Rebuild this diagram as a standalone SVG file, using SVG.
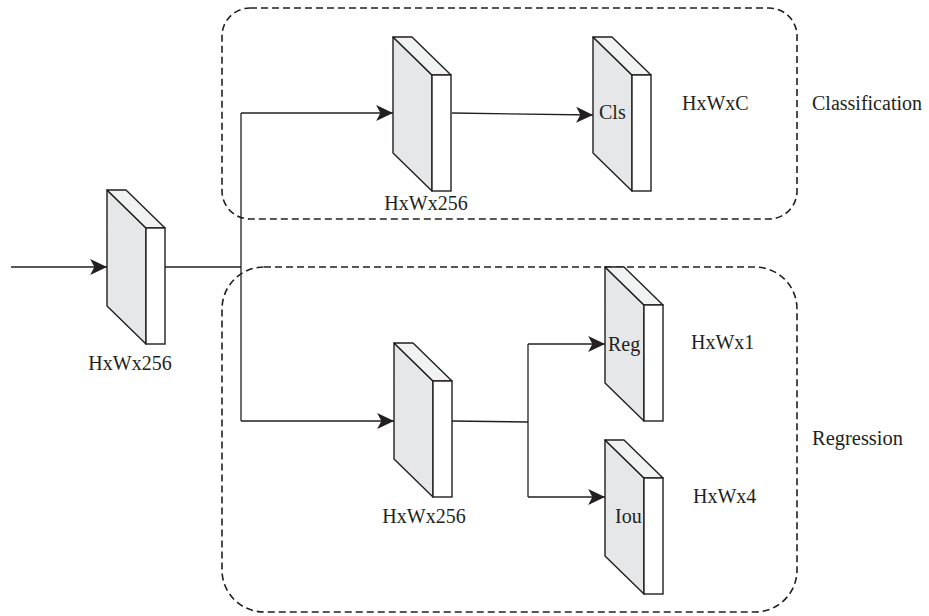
<svg xmlns="http://www.w3.org/2000/svg" xmlns:xlink="http://www.w3.org/1999/xlink" width="929" height="616" viewBox="0 0 929 616">
  <style>
    .lbl { font-family: "Liberation Serif", "Times New Roman", serif; font-size: 20px; fill: #231f20; }
    .wire { fill: none; stroke: #231f20; stroke-width: 1.3; }
    .group { fill: none; stroke: #231f20; stroke-width: 1.6; stroke-dasharray: 7 4; }
    .side { fill: #e6e7e8; stroke: #231f20; stroke-width: 1.4; stroke-linejoin: round; }
    .top { fill: #f1f2f2; stroke: #231f20; stroke-width: 1.4; stroke-linejoin: round; }
    .front { fill: #ffffff; stroke: #231f20; stroke-width: 1.4; }
  </style>
  <defs>
    <marker id="arrow" markerUnits="userSpaceOnUse" markerWidth="20" markerHeight="20" viewBox="-1 -9 19 18" refX="16" refY="0" orient="auto">
      <path d="M0,-7.5 L16,0 L0,7.5 L4,0 Z" fill="#231f20"/>
    </marker>
    <!-- feature-map slab: shaded side face, light top face, white front face -->
    <g id="slab">
      <polygon class="side" points="0,0 39,38 39,154 0,116"/>
      <polygon class="top" points="0,0 19,0 58,38 39,38"/>
      <rect class="front" x="39" y="38" width="19" height="116"/>
    </g>
  </defs>

  <rect width="929" height="616" fill="#ffffff"/>

  <!-- branch regions -->
  <g id="regions">
    <rect class="group" x="222" y="8" width="575" height="211" rx="28" ry="28"/>
    <rect class="group" x="222" y="267" width="575" height="345" rx="42" ry="42"/>
    <text class="lbl" x="812" y="110" textLength="110" lengthAdjust="spacingAndGlyphs">Classification</text>
    <text class="lbl" x="812" y="445" textLength="91" lengthAdjust="spacingAndGlyphs">Regression</text>
  </g>

  <!-- connectors -->
  <g id="connectors">
    <line class="wire" x1="11" y1="267" x2="107" y2="267" stroke-width="2" marker-end="url(#arrow)"/>
    <line class="wire" x1="164" y1="267" x2="241" y2="267"/>
    <line class="wire" x1="241" y1="113" x2="241" y2="421"/>
    <line class="wire" x1="241" y1="113" x2="393" y2="113" marker-end="url(#arrow)"/>
    <line class="wire" x1="241" y1="421" x2="394" y2="421" marker-end="url(#arrow)"/>
    <line class="wire" x1="452" y1="113" x2="593" y2="115" marker-end="url(#arrow)"/>
    <line class="wire" x1="452" y1="421" x2="528" y2="422"/>
    <line class="wire" x1="528" y1="344" x2="528" y2="497"/>
    <line class="wire" x1="528" y1="344" x2="605" y2="344" marker-end="url(#arrow)"/>
    <line class="wire" x1="528" y1="497" x2="605" y2="497" marker-end="url(#arrow)"/>
  </g>

  <!-- nodes -->
  <g id="node-input">
    <use xlink:href="#slab" href="#slab" transform="translate(107,190)"/>
    <text class="lbl" x="130" y="370" text-anchor="middle">HxWx256</text>
  </g>
  <g id="node-cls-feat">
    <use xlink:href="#slab" href="#slab" transform="translate(393,37)"/>
    <text class="lbl" x="426" y="210" text-anchor="middle">HxWx256</text>
  </g>
  <g id="node-cls">
    <use xlink:href="#slab" href="#slab" transform="translate(593,37)"/>
    <text class="lbl" x="599" y="119">Cls</text>
    <text class="lbl" x="682" y="110">HxWxC</text>
  </g>
  <g id="node-reg-feat">
    <use xlink:href="#slab" href="#slab" transform="translate(394,343)"/>
    <text class="lbl" x="424" y="523" text-anchor="middle">HxWx256</text>
  </g>
  <g id="node-reg">
    <use xlink:href="#slab" href="#slab" transform="translate(605,267)"/>
    <text class="lbl" x="608" y="351">Reg</text>
    <text class="lbl" x="691" y="349">HxWx1</text>
  </g>
  <g id="node-iou">
    <use xlink:href="#slab" href="#slab" transform="translate(605,440)"/>
    <text class="lbl" x="615" y="523">Iou</text>
    <text class="lbl" x="693" y="503">HxWx4</text>
  </g>
</svg>
